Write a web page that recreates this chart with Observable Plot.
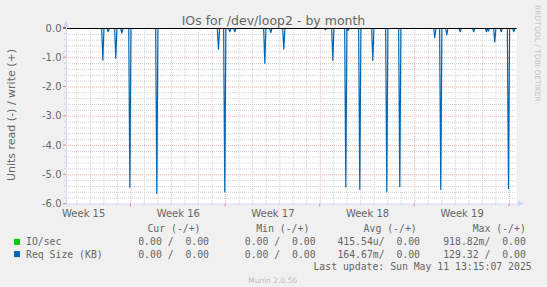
<!DOCTYPE html>
<html><head><meta charset="utf-8">
<script src="https://cdn.jsdelivr.net/npm/d3@7"></script>
<script src="https://cdn.jsdelivr.net/npm/@observablehq/plot@0.6"></script>
<style>
html,body{margin:0;padding:0;background:#F0F0F0;}
#chart{width:547px;height:287px;position:relative;overflow:hidden;}
#chart svg{display:block;}
</style></head><body><div id="chart"></div>
<script>
// ---- data ----
const title = "IOs for /dev/loop2 - by month";
const yLabel = "Units read (-) / write (+)";
const timeStart = "2025-04-08T05:30Z";
const timeEnd = "2025-05-11T12:30Z";
const weekLabels = ["Week 15", "Week 16", "Week 17", "Week 18", "Week 19"];
const weekCenters = ["2025-04-09T12:00Z", "2025-04-16T12:00Z", "2025-04-23T12:00Z", "2025-04-30T12:00Z", "2025-05-07T12:00Z"];
const weekStarts = ["2025-04-13T00:00Z", "2025-04-20T00:00Z", "2025-04-27T00:00Z", "2025-05-04T00:00Z", "2025-05-11T00:00Z"];
const yTicks = [0, -1, -2, -3, -4, -5, -6];
const spikeTimes = [
  "2025-04-10T22:00Z", "2025-04-11T07:30Z", "2025-04-11T21:00Z", "2025-04-12T07:45Z",
  "2025-04-12T22:00Z", "2025-04-14T21:50Z", "2025-04-19T11:20Z", "2025-04-19T22:30Z",
  "2025-04-20T07:25Z", "2025-04-20T16:20Z", "2025-04-22T21:35Z", "2025-04-23T08:15Z",
  "2025-04-24T07:20Z", "2025-04-27T09:20Z", "2025-04-27T22:20Z", "2025-04-28T21:25Z",
  "2025-04-29T01:20Z", "2025-04-29T22:15Z", "2025-04-30T21:20Z", "2025-05-01T22:10Z",
  "2025-05-02T21:15Z", "2025-05-05T11:25Z", "2025-05-05T22:00Z", "2025-05-06T08:40Z",
  "2025-05-07T08:30Z", "2025-05-08T08:35Z", "2025-05-09T07:10Z", "2025-05-09T10:25Z",
  "2025-05-09T21:55Z", "2025-05-10T09:20Z", "2025-05-10T22:15Z", "2025-05-11T07:35Z"
];
const reqSizeRead = [
  -1.08, -0.11, -1.02, -0.16,
  -5.43, -5.64, -0.71, -5.58,
  -0.11, -0.11, -1.19, -0.14,
  -0.71, -0.05, -1.09, -5.42,
  -0.07, -5.50, -1.09, -5.58,
  -5.41, -0.31, -5.50, -0.22,
  -0.11, -0.11, -0.11, -0.09,
  -0.46, -0.11, -5.47, -0.11
];
const seriesNames = ["IO/sec", "Req Size (KB)"];
const seriesColors = ["#00CC00", "#0066B3"];
const legendHeaders = ["Cur (-/+)", "Min (-/+)", "Avg (-/+)", "Max (-/+)"];
const ioRow = ["0.00 /  0.00", "0.00 /  0.00", "415.54u/  0.00", "918.82m/  0.00"];
const reqRow = ["0.00 /  0.00", "0.00 /  0.00", "164.67m/  0.00", "129.32 /  0.00"];
const lastUpdate = "Last update: Sun May 11 13:15:07 2025";
const footer = "Munin 2.0.56";
const sideText = "RRDTOOL / TOBI OETIKER";

// ---- build ----
const start = new Date(timeStart), end = new Date(timeEnd);
const H = 3600e3;
const lineData = [{t: start, v: 0}];
spikeTimes.forEach((s, i) => {
  const t = new Date(s);
  lineData.push({t: new Date(+t - 2 * H), v: 0}, {t, v: reqSizeRead[i]}, {t: new Date(+t + 2 * H), v: 0});
});
lineData.push({t: end, v: 0});
lineData.sort((a, b) => a.t - b.t);

const weekStartDates = weekStarts.map(d => new Date(d));
const days = d3.utcDay.range(d3.utcDay.ceil(start), end).filter(d => !weekStartDates.some(w => +w === +d));
const yMinor = d3.range(1, 30).map(i => -i * 0.2).filter(v => Math.abs(v - Math.round(v)) > 1e-6);

const AXIS = "#CFD6F8";
const FONT = "#666666";
const GRID = "#d2d2d2";
const MGRID = "#f2b0b0";

const chart = Plot.plot({
  width: 547, height: 287,
  marginTop: 28, marginBottom: 83.5, marginLeft: 66, marginRight: 31,
  style: {background: "transparent", fontFamily: "DejaVu Sans", fontSize: "10px", color: FONT},
  x: {type: "utc", domain: [start, end], ticks: weekCenters.map(d => new Date(d)),
      tickFormat: (d, i) => weekLabels[i], tickSize: 0, tickPadding: 6, label: null},
  y: {domain: [-6, 0], ticks: yTicks, tickFormat: d => d.toFixed(1), tickSize: 0, tickPadding: 5, label: null},
  marks: [
    Plot.frame({fill: "white", stroke: null}),
    Plot.ruleY(yMinor, {stroke: GRID, strokeDasharray: "1,1"}),
    Plot.ruleX(days, {stroke: GRID, strokeDasharray: "1,1"}),
    Plot.ruleY(yTicks.filter(v => v !== 0 && v !== -6), {stroke: MGRID, strokeDasharray: "1,1"}),
    Plot.ruleX(weekStartDates, {stroke: MGRID, strokeDasharray: "1,1"}),
    Plot.lineY([{t: start, v: 0}, {t: end, v: 0}], {x: "t", y: "v", stroke: seriesColors[0], strokeWidth: 1}),
    Plot.line(lineData, {x: "t", y: "v", stroke: seriesColors[1], strokeWidth: 1.2}),
    Plot.ruleY([0], {stroke: "#000", strokeWidth: 1}),
    Plot.ruleX([start], {stroke: AXIS, insetBottom: -3}),
    Plot.ruleY([-6], {stroke: AXIS, insetLeft: -3, insetRight: -3})
  ]
});

document.getElementById("chart").appendChild(chart);
const svg = d3.select(chart);
const xs = chart.scale("x"), ys = chart.scale("y");
const x0 = xs.apply(start), x1 = xs.apply(end), y0 = ys.apply(0), yb = ys.apply(-6);

// small tick marks
const tk = svg.append("g");
yMinor.forEach(v => tk.append("line").attr("x1", x0 - 2).attr("x2", x0).attr("y1", ys.apply(v)).attr("y2", ys.apply(v)).attr("stroke", GRID));
yTicks.forEach(v => tk.append("line").attr("x1", x0 - 3).attr("x2", x0).attr("y1", ys.apply(v)).attr("y2", ys.apply(v)).attr("stroke", v === 0 ? "#000" : "#e88a8a"));
days.forEach(d => tk.append("line").attr("x1", xs.apply(d)).attr("x2", xs.apply(d)).attr("y1", yb).attr("y2", yb + 2).attr("stroke", GRID));
weekStartDates.forEach(d => tk.append("line").attr("x1", xs.apply(d)).attr("x2", xs.apply(d)).attr("y1", yb).attr("y2", yb + 3).attr("stroke", "#e88a8a"));

// arrows
svg.append("path").attr("d", `M${x0 - 3},${y0 - 1} L${x0 + 3},${y0 - 1} L${x0},${y0 - 7} Z`).attr("fill", AXIS);
svg.append("path").attr("d", `M${x1 + 2},${yb - 3} L${x1 + 2},${yb + 3} L${x1 + 8},${yb} Z`).attr("fill", AXIS);

// title & labels
svg.append("text").attr("x", 273.5).attr("y", 24.5).attr("text-anchor", "middle")
  .attr("font-family", "DejaVu Sans").attr("font-size", "12.5px").attr("fill", FONT).text(title);
svg.append("text").attr("transform", "translate(14.8,115) rotate(-90)").attr("text-anchor", "middle")
  .attr("font-family", "DejaVu Sans").attr("font-size", "11px").attr("fill", FONT).text(yLabel);
svg.append("text").attr("transform", "translate(534.6,53.4) rotate(90)").attr("text-anchor", "middle")
  .attr("font-family", "DejaVu Sans").attr("font-size", "7.5px").attr("fill", "#c4c4c4").text(sideText);

// legend
const mono = "DejaVu Sans Mono";
const lg = svg.append("g").attr("font-family", mono).attr("font-size", "9.8px").attr("fill", FONT).style("white-space", "pre");
const headerEnds = [200.5, 309.3, 416.7, 525.8];
const valueEnds = [209, 315.6, 420, 525.8];
legendHeaders.forEach((h, i) => lg.append("text").attr("x", headerEnds[i]).attr("y", 232.2).attr("text-anchor", "end").attr("xml:space", "preserve").text(h));
[ioRow, reqRow].forEach((row, r) => {
  const y = 245.4 + r * 12.2;
  lg.append("rect").attr("x", 14).attr("y", y - 6.5).attr("width", 6).attr("height", 6).attr("fill", seriesColors[r]);
  lg.append("text").attr("x", 26).attr("y", y).attr("text-anchor", "start").attr("xml:space", "preserve").text(seriesNames[r]);
  row.forEach((v, i) => lg.append("text").attr("x", valueEnds[i]).attr("y", y).attr("text-anchor", "end").attr("xml:space", "preserve").text(v));
});
lg.append("text").attr("x", 531.7).attr("y", 269.8).attr("text-anchor", "end").attr("xml:space", "preserve").text(lastUpdate);
svg.append("text").attr("x", 272.7).attr("y", 282.5).attr("text-anchor", "middle")
  .attr("font-family", "DejaVu Sans").attr("font-size", "7.5px").attr("fill", "#bdbdbd").text(footer);
</script>
</body></html>
